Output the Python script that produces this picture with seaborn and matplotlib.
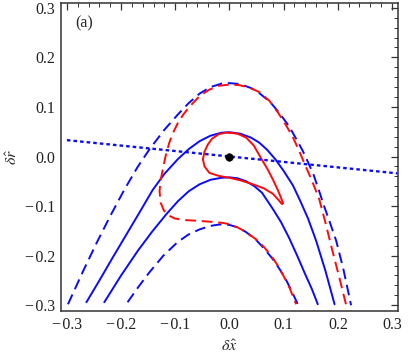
import matplotlib
matplotlib.use("Agg")
import matplotlib.pyplot as plt
import seaborn as sns
import pandas as pd
from matplotlib.ticker import MultipleLocator, FixedLocator

# ---- data ----
blue_dash_upper_x = [-0.298, -0.27, -0.245, -0.22, -0.194, -0.17, -0.148, -0.12, -0.095, -0.075, -0.055,
                     -0.035, -0.015, 0.0, 0.02, 0.04, 0.055, 0.075, 0.092, 0.11, 0.123, 0.135, 0.144,
                     0.155, 0.165, 0.175, 0.186, 0.197, 0.21, 0.2245]
blue_dash_upper_y = [-0.298, -0.231, -0.174, -0.12, -0.067, -0.022, 0.014, 0.054, 0.085, 0.108, 0.127,
                     0.14, 0.147, 0.148, 0.146, 0.138, 0.128, 0.11, 0.088, 0.061, 0.036, 0.012, -0.009,
                     -0.036, -0.068, -0.101, -0.135, -0.170, -0.226, -0.300]

blue_solid_upper_x = [-0.264, -0.24, -0.215, -0.19, -0.165, -0.142, -0.12, -0.095, -0.075, -0.055, -0.035,
                      -0.015, 0.0, 0.02, 0.04, 0.055, 0.07, 0.085, 0.1, 0.117, 0.13, 0.145, 0.16, 0.177, 0.194]
blue_solid_upper_y = [-0.294, -0.250, -0.203, -0.157, -0.111, -0.068, -0.035, -0.005, 0.015, 0.031, 0.042,
                      0.048, 0.049, 0.046, 0.038, 0.028, 0.013, -0.006, -0.029, -0.058, -0.088, -0.125,
                      -0.17, -0.23, -0.298]

blue_solid_lower_x = [-0.231, -0.2, -0.169, -0.143, -0.117, -0.095, -0.075, -0.055, -0.035, -0.015, 0.0,
                      0.015, 0.031, 0.046, 0.06, 0.079, 0.095, 0.11, 0.125, 0.14, 0.152, 0.163]
blue_solid_lower_y = [-0.294, -0.240, -0.190, -0.152, -0.117, -0.090, -0.070, -0.056, -0.047, -0.043, -0.042,
                      -0.044, -0.050, -0.060, -0.073, -0.104, -0.132, -0.164, -0.200, -0.238, -0.267, -0.298]

blue_dash_lower_x = [-0.188, -0.168, -0.148, -0.122, -0.095, -0.075, -0.055, -0.035, -0.018, 0.0, 0.015,
                     0.03, 0.049, 0.065, 0.08, 0.093, 0.105, 0.116, 0.126]
blue_dash_lower_y = [-0.294, -0.263, -0.234, -0.200, -0.172, -0.157, -0.147, -0.140, -0.137, -0.138, -0.143,
                     -0.152, -0.168, -0.187, -0.207, -0.228, -0.250, -0.274, -0.298]

red_dash_x = [0.215, 0.203, 0.19, 0.178, 0.166, 0.152, 0.138, 0.128, 0.117, 0.105, 0.09, 0.074, 0.055,
              0.037, 0.018, 0.0, -0.018, -0.037, -0.055, -0.074, -0.085, -0.095, -0.104, -0.111, -0.118,
              -0.123, -0.127, -0.129, -0.127, -0.121, -0.112, -0.101, -0.085, -0.055, -0.03, -0.012,
              0.002, 0.015, 0.03, 0.049, 0.064, 0.077, 0.088, 0.098, 0.111, 0.123]
red_dash_y = [-0.298, -0.245, -0.19, -0.137, -0.087, -0.048, -0.013, 0.013, 0.039, 0.062, 0.088, 0.112,
              0.13, 0.139, 0.144, 0.145, 0.143, 0.135, 0.122, 0.1, 0.085, 0.068, 0.048, 0.028, 0.0,
              -0.026, -0.048, -0.07, -0.093, -0.109, -0.119, -0.125, -0.128, -0.130, -0.132, -0.134,
              -0.137, -0.143, -0.152, -0.167, -0.183, -0.200, -0.218, -0.237, -0.265, -0.298]

red_loop_x = [0.0, 0.015, 0.031, 0.045, 0.058, 0.07, 0.08, 0.089, 0.095, 0.099, 0.097, 0.09, 0.08, 0.063,
              0.043, 0.02, 0.0, -0.02, -0.037, -0.046, -0.049, -0.046, -0.04, -0.032, -0.02, -0.008, 0.0]
red_loop_y = [0.048, 0.046, 0.038, 0.022, -0.003, -0.025, -0.046, -0.067, -0.083, -0.094, -0.096, -0.087,
              -0.075, -0.064, -0.056, -0.048, -0.043, -0.039, -0.033, -0.02, -0.006, 0.01, 0.024, 0.036,
              0.045, 0.048, 0.048]

dotted_x = [-0.3, 0.31]
dotted_y = [0.033, -0.034]

point_x = [0.0]
point_y = [0.0]

tick_values = [-0.3, -0.2, -0.1, 0.0, 0.1, 0.2, 0.3]
tick_labels = ["\u2212\u200a0.3", "\u2212\u200a0.2", "\u2212\u200a0.1", "0.0", "0.1", "0.2", "0.3"]

# ---- style ----
sns.set_style("white")
plt.rcParams["font.family"] = ["Liberation Serif", "DejaVu Serif"]
plt.rcParams["mathtext.fontset"] = "stix"

fig = plt.figure(figsize=(4.09, 3.54), dpi=100)
ax = fig.add_axes([0.149, 0.121, 0.824, 0.871])

BLUE = "#0a0aff"
RED = "#ff0a0a"
dash = (0, (5.5, 3.0))
lw = 1.4

def curve(xs, ys, color, ls):
    df = pd.DataFrame({"x": xs, "y": ys})
    sns.lineplot(data=df, x="x", y="y", sort=False, estimator=None, ax=ax,
                 color=color, linestyle=ls, linewidth=lw)

curve(blue_dash_upper_x, blue_dash_upper_y, BLUE, dash)
curve(blue_dash_lower_x, blue_dash_lower_y, BLUE, dash)
curve(blue_solid_upper_x, blue_solid_upper_y, BLUE, "-")
curve(blue_solid_lower_x, blue_solid_lower_y, BLUE, "-")
curve(red_dash_x, red_dash_y, RED, dash)
curve(red_loop_x, red_loop_y, RED, "-")
df_dot = pd.DataFrame({"x": dotted_x, "y": dotted_y})
sns.lineplot(data=df_dot, x="x", y="y", sort=False, estimator=None, ax=ax,
             color=BLUE, linestyle=(0, (1.5, 1.3)), linewidth=1.7)
sns.scatterplot(x=point_x, y=point_y, ax=ax, color="black", s=30, zorder=5,
                edgecolor="black", marker="o")

ax.set_xlim(-0.311, 0.311)
ax.set_ylim(-0.312, 0.31)

ax.xaxis.set_major_locator(FixedLocator(tick_values))
ax.yaxis.set_major_locator(FixedLocator(tick_values))
ax.set_xticklabels(tick_labels)
ax.set_yticklabels(tick_labels)
ax.xaxis.set_minor_locator(MultipleLocator(0.02))
ax.yaxis.set_minor_locator(MultipleLocator(0.02))
ax.tick_params(which="both", direction="in", top=True, right=True, color="#333333",
               labelsize=11.5, labelcolor="#222222")
ax.tick_params(which="major", length=5, width=0.9, pad=4)
ax.tick_params(which="minor", length=2.8, width=0.7)
for s in ax.spines.values():
    s.set_linewidth(1.1)
    s.set_color("#333333")

ax.set_xlabel(r"$\delta\hat{x}$", fontsize=11.5)
ax.set_ylabel(r"$\delta\hat{r}$", fontsize=11.5)
ax.xaxis.set_label_coords(0.5, -0.117)
ax.yaxis.set_label_coords(-0.142, 0.5)
ax.xaxis.label.set_va("center")
ax.yaxis.label.set_va("center")
ax.text(-0.268, 0.268, "(a)", fontsize=11.5, ha="center", va="center")

fig.savefig("out.png", dpi=100)
